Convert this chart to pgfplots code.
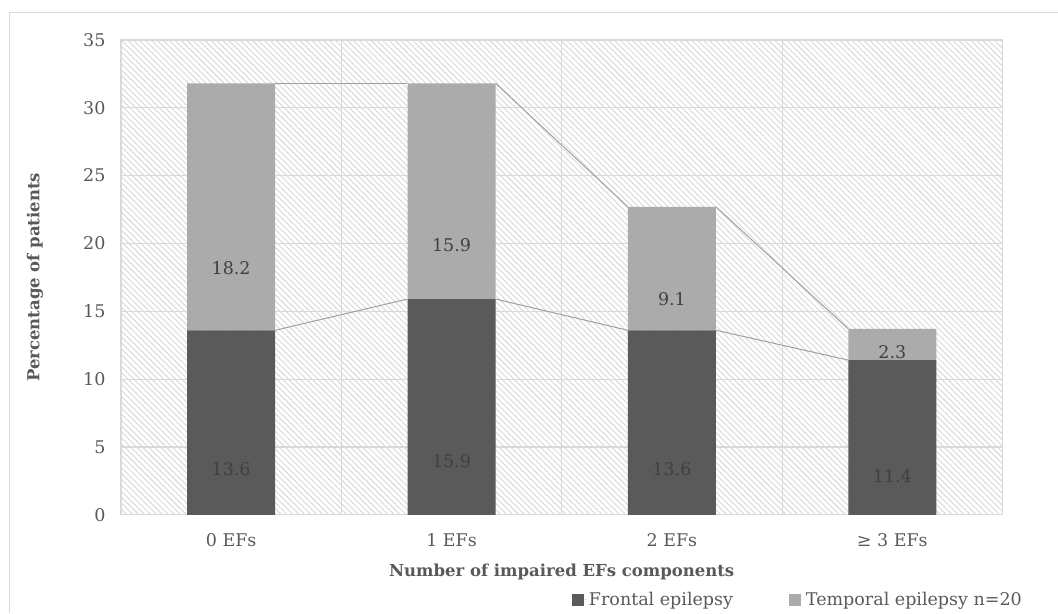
\documentclass[border=0pt]{standalone}
\usepackage{pgfplots}
\pgfplotsset{compat=1.18}
\usepackage{pgfplotstable}
\usepackage{fontspec}
\setmainfont{DejaVu Serif}
\usetikzlibrary{patterns.meta}

\definecolor{darkbar}{HTML}{5A5A5A}
\definecolor{lightbar}{HTML}{ABABAB}
\definecolor{gridc}{HTML}{D9D9D9}
\definecolor{hatch}{HTML}{DCDCDC}
\definecolor{txt}{HTML}{595959}
\definecolor{lbl}{HTML}{404040}
\definecolor{serline}{HTML}{A0A0A0}

% share of patients (%) per number of impaired EF components
\pgfplotstableread{
x frontal temporal
0 13.6 18.2
1 15.9 15.9
2 13.6 9.1
3 11.4 2.3
}\efdata

\newcommand{\chartfont}{\fontsize{17.5}{20}\selectfont}
\newcommand{\titlefont}{\fontsize{16.5}{19}\selectfont\bfseries}

\begin{document}
\begin{tikzpicture}[x=1pt,y=1pt]
\path (0,0) rectangle (1058,613);
\draw[gridc, line width=1pt] (10,0) -- (10,600) -- (1058,600);

\pgfplotsset{
  efframe/.style={
    at={(121pt,98pt)}, anchor=south west,
    scale only axis, width=882pt, height=475pt,
    xmin=-0.5, xmax=3.5, ymin=0, ymax=35,
  }
}

\begin{axis}[
  efframe,
  ybar stacked, bar width=88pt,
  ytick={0,5,...,35},
  xtick={0,1,2,3},
  xticklabels={0 EFs,1 EFs,2 EFs,≥ 3 EFs},
  minor xtick={0.5,1.5,2.5},
  ymajorgrids, xminorgrids,
  major grid style={gridc, line width=1.2pt},
  minor grid style={gridc, line width=1.2pt},
  axis line style={gridc, line width=1.2pt},
  major tick length=0pt, minor tick length=0pt,
  tick style={draw=none},
  /pgf/number format/assume math mode=true,
  ticklabel style={font=\chartfont, text=txt},
  xticklabel style={anchor=center, yshift=-25pt},
  yticklabel style={anchor=east, xshift=-12pt},
  xlabel={Number of impaired EFs components},
  ylabel={Percentage of patients},
  label style={font=\titlefont, text=txt},
  xlabel style={at={(axis description cs:0.5,-0.12)}, anchor=center},
  ylabel style={at={(axis description cs:-0.0975,0.5)}, anchor=center},
  axis background/.style={pattern={Lines[angle=-45,distance=4.2pt,line width=1.1pt]}, pattern color=hatch},
  legend style={at={(0.508,-0.179)}, anchor=west, draw=none, fill=none,
    legend columns=2, font=\chartfont, text=txt,
    /tikz/every even column/.append style={column sep=54pt}},
  legend image code/.code={\path (0pt,0pt) -- (15pt,0pt); \fill[#1] (0pt,-6pt) rectangle (12pt,6pt);},
  visualization depends on=rawy \as \rawy,
  nodes near coords={\pgfmathprintnumber[fixed,precision=1,fixed zerofill]{\rawy}},
  every node near coord/.append style={font=\chartfont, text=lbl, anchor=center, yshift={-\rawy*3.393pt}},
]
\addplot[fill=darkbar, draw=none] table[x=x, y=frontal] {\efdata};
\addlegendentry{Frontal epilepsy}
\addplot[fill=lightbar, draw=none] table[x=x, y=temporal] {\efdata};
\addlegendentry{Temporal epilepsy n=20}
\end{axis}

% series lines joining the bar tops
\begin{axis}[efframe, hide axis]
\addplot[serline, line width=1pt] coordinates {(0.2,31.8) (0.8,31.8)};
\addplot[serline, line width=1pt] coordinates {(1.2,31.8) (1.8,22.7)};
\addplot[serline, line width=1pt] coordinates {(2.2,22.7) (2.8,13.7)};
\addplot[serline, line width=1pt] coordinates {(0.2,13.6) (0.8,15.9)};
\addplot[serline, line width=1pt] coordinates {(1.2,15.9) (1.8,13.6)};
\addplot[serline, line width=1pt] coordinates {(2.2,13.6) (2.8,11.4)};
\end{axis}
\end{tikzpicture}
\end{document}
